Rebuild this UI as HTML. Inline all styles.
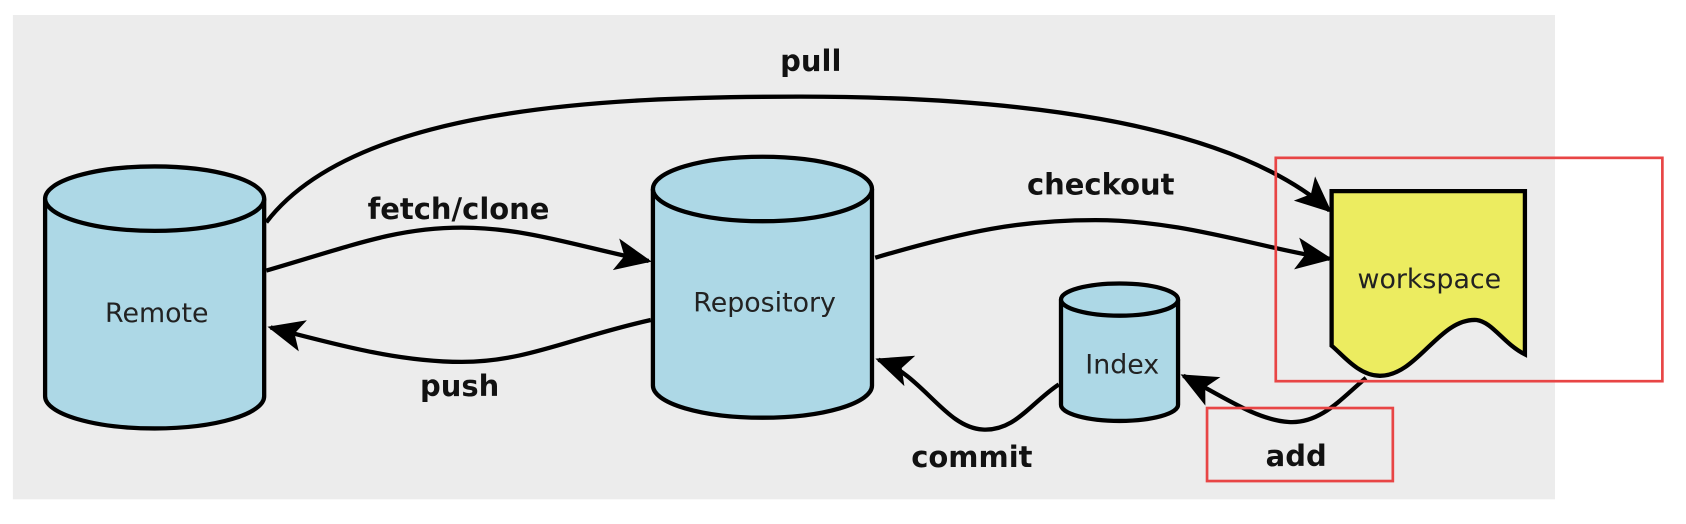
<!DOCTYPE html>
<html><head><meta charset="utf-8"><style>
html,body{margin:0;padding:0;background:#fff;width:1686px;height:524px;overflow:hidden}
svg{display:block}
text{font-family:"DejaVu Sans","Liberation Sans",sans-serif}
.lbl{font-weight:bold;font-size:27px;fill:#111;text-anchor:middle}
.nl{font-size:25px;fill:#222;text-anchor:middle}
.cy{fill:#add8e6;stroke:#000;stroke-width:4}
.ar{fill:none;stroke:#000;stroke-width:4;marker-end:url(#ah)}
</style></head><body>
<svg width="1686" height="524" viewBox="0 0 1570 488" preserveAspectRatio="none">
<defs>
<marker id="ah" markerUnits="userSpaceOnUse" markerWidth="36" markerHeight="32" refX="31" refY="16" orient="auto">
<path d="M0,1 L34,16 L0,31 L8,16 z" fill="#000"/>
</marker>
</defs>
<rect x="12" y="14" width="1436" height="451" fill="#ececec"/>

<path class="cy" d="M42,185 L42,369 A102,30 0 0 0 246,369 L246,185"/>
<ellipse class="cy" cx="144" cy="185" rx="102" ry="30"/>
<text class="nl" x="146" y="300">Remote</text>

<path class="cy" d="M608,176 L608,359 A102,30 0 0 0 812,359 L812,176"/>
<ellipse class="cy" cx="710" cy="176" rx="102" ry="30"/>
<text class="nl" x="712" y="290">Repository</text>

<path class="cy" d="M988,279 L988,377 A54.5,15 0 0 0 1097,377 L1097,279"/>
<ellipse class="cy" cx="1042.5" cy="279" rx="54.5" ry="15"/>
<text class="nl" x="1045" y="348">Index</text>

<path d="M1240,178 L1420,178 L1420,330 C1400,320 1390,300 1375,298 C1340,296 1320,350 1285,350 C1265,350 1250,330 1240,322 Z" fill="#ecec60" stroke="#000" stroke-width="4"/>
<text class="nl" x="1331" y="268">workspace</text>

<path class="ar" d="M248,207 C330,100 560,90 745,90 C930,90 1140,110 1238,196"/>
<path class="ar" d="M248,252 C330,228 370,212 430,212 C490,212 540,230 604,243"/>
<path class="ar" d="M815,240 C900,215 950,205 1020,205 C1100,205 1170,230 1238,241"/>
<path class="ar" d="M606,298 C530,315 490,337 430,337 C370,337 310,320 252,305"/>
<path class="ar" d="M986,358 C960,375 945,402 915,400 C880,398 860,350 818,335"/>
<path class="ar" d="M1272,352 C1250,370 1230,395 1200,393 C1170,391 1140,370 1102,350"/>

<text class="lbl" x="755" y="66">pull</text>
<text class="lbl" x="427" y="204">fetch/clone</text>
<text class="lbl" x="1025" y="181">checkout</text>
<text class="lbl" x="428" y="369">push</text>
<text class="lbl" x="905" y="435">commit</text>
<text class="lbl" x="1207" y="434">add</text>

<rect x="1188" y="147" width="360" height="208" fill="none" stroke="#e84545" stroke-width="2.5"/>
<rect x="1124" y="380" width="173" height="68" fill="none" stroke="#e84545" stroke-width="2.5"/>
</svg>
</body></html>
